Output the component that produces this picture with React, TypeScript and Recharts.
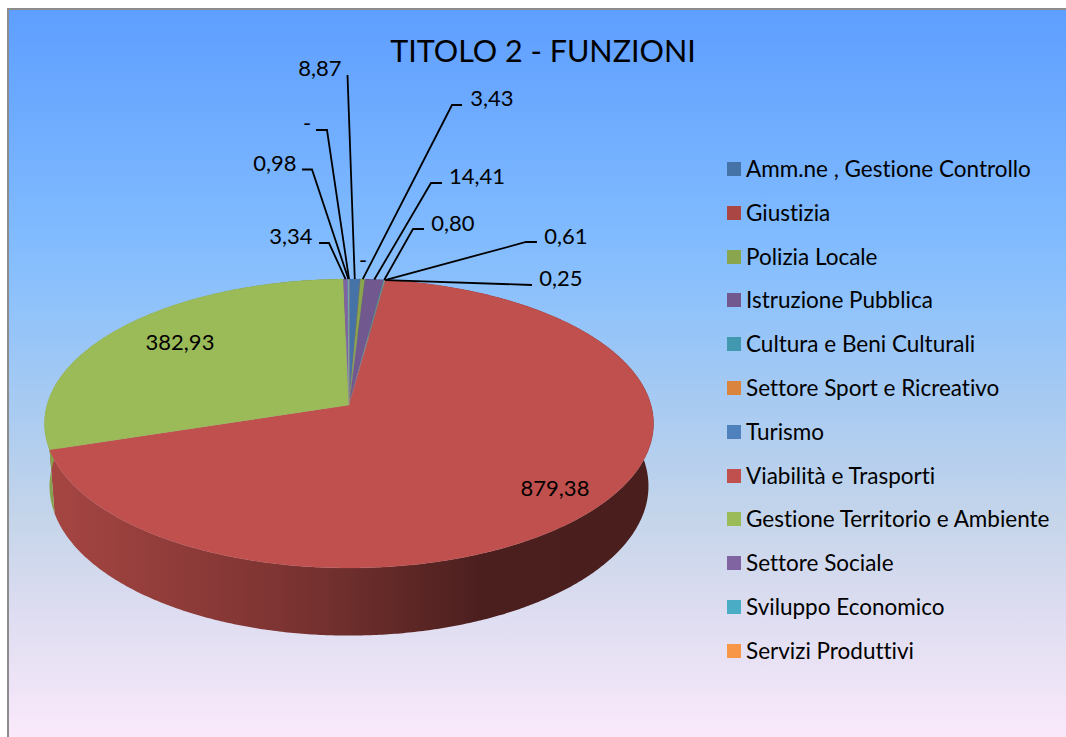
import React from "react";
import { PieChart, Pie, Legend } from "recharts";

const categories = [
  "Amm.ne , Gestione Controllo", "Giustizia", "Polizia Locale", "Istruzione Pubblica",
  "Cultura e Beni Culturali", "Settore Sport e Ricreativo", "Turismo", "Viabilità e Trasporti",
  "Gestione Territorio e Ambiente", "Settore Sociale", "Sviluppo Economico", "Servizi Produttivi",
];
const values = [8.87, 0, 3.43, 14.41, 0.8, 0.61, 0.25, 879.38, 382.93, 3.34, 0.98, 0];
const colors = [
  "#4572A7", "#AA4643", "#89A54E", "#71588F", "#4198AF", "#DB843D",
  "#4F81BD", "#C0504D", "#9BBB59", "#8064A2", "#4BACC6", "#F79646",
];
const data = categories.map((name, i) => ({ name, value: values[i], fill: colors[i] }));

const FONT = "Lato, 'Noto Sans', sans-serif";
const NOLIG = { fontVariantLigatures: "none" } as React.CSSProperties;
const CX = 349;
const CY = 405;

// Perspective projection of the pie disc: top face and bottom face
const project = (deg: number, A: number, B: number, Y0: number) => {
  const t = (deg * Math.PI) / 180;
  const u = Math.cos(t);
  const v = Math.sin(t);
  const w = 1 + 0.128 * v;
  return { x: CX + (A * u) / w, y: Y0 - (B * v) / w };
};
const topRim = (deg: number) => project(deg, 302, 142.1, CY);
const botRim = (deg: number) => project(deg, 297, 147, CY + 62);

const arcPoints = (a0: number, a1: number, fn: (d: number) => { x: number; y: number }) => {
  const n = Math.max(2, Math.ceil(Math.abs(a1 - a0) / 0.5));
  const pts: { x: number; y: number }[] = [];
  for (let i = 0; i <= n; i++) pts.push(fn(a0 + ((a1 - a0) * i) / n));
  return pts;
};
const toD = (pts: { x: number; y: number }[]) =>
  pts.map((p, i) => `${i ? "L" : "M"}${p.x.toFixed(2)},${p.y.toFixed(2)}`).join("") + "Z";

const shade = (hex: string, f: number) => {
  const n = parseInt(hex.slice(1), 16);
  const c = [(n >> 16) & 255, (n >> 8) & 255, n & 255].map((x) => Math.round(x * f));
  return `rgb(${c[0]},${c[1]},${c[2]})`;
};

const TopSlice = (p: any) => {
  const pts = [{ x: CX, y: CY }, ...arcPoints(p.startAngle, p.endAngle, topRim)];
  return <path d={toD(pts)} fill={p.fill} stroke={p.fill} strokeWidth={0.3} />;
};
const WallSlice = (p: any) => {
  const top = arcPoints(p.startAngle, p.endAngle, topRim);
  const bot = arcPoints(p.startAngle, p.endAngle, botRim).reverse();
  const id = `wall-${p.name ? String(p.name).replace(/[^a-zA-Z]/g, "") : "x"}`;
  return (
    <g>
      <defs>
        <linearGradient id={id} gradientUnits="userSpaceOnUse" x1={44} x2={653} y1={0} y2={0}>
          <stop offset="0" stopColor={shade(p.fill, 0.87)} />
          <stop offset="0.39" stopColor={shade(p.fill, 0.65)} />
          <stop offset="0.5" stopColor={shade(p.fill, 0.57)} />
          <stop offset="0.72" stopColor={shade(p.fill, 0.39)} />
          <stop offset="1" stopColor={shade(p.fill, 0.38)} />
        </linearGradient>
      </defs>
      <path d={toD([...top, ...bot])} fill={`url(#${id})`} />
    </g>
  );
};

// Label placement: text centre, leader polyline start and elbow
const labelLayout: ({ tx: number; ty: number; line?: number[][] })[] = [
  { tx: 320, ty: 67, line: [[347.5, 75]] },
  { tx: 363, ty: 259 },
  { tx: 492, ty: 97, line: [[462, 105], [452, 105]] },
  { tx: 477, ty: 175, line: [[442, 183], [431, 183]] },
  { tx: 453, ty: 222, line: [[424, 229], [413, 229]] },
  { tx: 566, ty: 235, line: [[537, 242], [526, 242]] },
  { tx: 561, ty: 277, line: [[532, 285]] },
  { tx: 555, ty: 487 },
  { tx: 180, ty: 341 },
  { tx: 291, ty: 235, line: [[319, 243], [329, 243]] },
  { tx: 275, ty: 162, line: [[302, 169.5], [312, 169.5]] },
  { tx: 307, ty: 122, line: [[316, 130], [327, 130]] },
];
const fmt = (v: number) => (v === 0 ? "-" : v.toFixed(2).replace(".", ","));

const SliceLabel = (p: any) => {
  const l = labelLayout[p.index];
  const rim = topRim(p.midAngle);
  return (
    <g>
      {l.line && (
        <polyline
          points={[...l.line, [rim.x, rim.y]].map((q) => q.join(",")).join(" ")}
          fill="none"
          stroke="#000"
          strokeWidth={1.8}
        />
      )}
      <text x={l.tx} y={l.ty} textAnchor="middle" dominantBaseline="central" fontFamily={FONT} fontSize={22} fill="#000" style={NOLIG}>
        {fmt(p.value)}
      </text>
    </g>
  );
};

const LegendBox = ({ payload }: any) => (
  <div>
    {(payload || [])
      .filter((e: any) => e.type !== "none")
      .slice(0, 12)
      .map((e: any, i: number) => (
        <div key={i} style={{ position: "absolute", left: 0, top: i * 43.8, height: 20, whiteSpace: "nowrap" }}>
          <span style={{ position: "absolute", left: 0, top: 3, width: 14, height: 14, background: e.color }} />
          <span style={{ position: "absolute", left: 19, top: -3, fontFamily: FONT, fontSize: 22.5, lineHeight: "26px", color: "#000", ...NOLIG }}>
            {e.value}
          </span>
        </div>
      ))}
  </div>
);

export default function App() {
  return (
    <div style={{ position: "absolute", left: 0, top: 0, width: 1066, height: 737, overflow: "hidden", background: "#fff" }}>
      <div
        style={{
          position: "absolute", left: 7, top: 8, width: 1059, height: 729, boxSizing: "border-box",
          borderLeft: "2px solid #8c8c8c", borderTop: "2px solid #8c8c8c",
          background:
            "linear-gradient(180deg,#5e9eff 0%,#7fbaff 30%,#8fc2fb 40%,#a9cbf1 55%,#c5d5ea 70%,#dcdcf0 82%,#fae9fb 100%)",
        }}
      />
      <PieChart width={1066} height={737} style={{ position: "absolute", left: 0, top: 0 }}>
        <text x={543} y={50} textAnchor="middle" dominantBaseline="central" fontFamily={FONT} fontSize={30.5} fill="#000" style={NOLIG}>
          TITOLO 2 - FUNZIONI
        </text>
        <Pie
          data={data}
          dataKey="value"
          nameKey="name"
          cx={CX}
          cy={CY}
          outerRadius={300}
          startAngle={90}
          endAngle={-270}
          legendType="none"
          isAnimationActive={false}
          stroke="none"
          shape={WallSlice}
        />
        <Pie
          data={data}
          dataKey="value"
          nameKey="name"
          cx={CX}
          cy={CY}
          outerRadius={300}
          startAngle={90}
          endAngle={-270}
          isAnimationActive={false}
          stroke="none"
          shape={TopSlice}
          label={SliceLabel}
          labelLine={false}
        />
        <Legend
          layout="vertical"
          itemSorter={null}
          content={<LegendBox />}
          wrapperStyle={{ position: "absolute", left: 727, top: 159, width: 330, height: 500 }}
        />
      </PieChart>
    </div>
  );
}
